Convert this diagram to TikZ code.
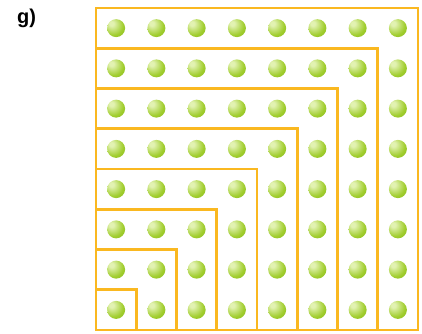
\documentclass[tikz,border=0pt]{standalone}
\usepackage{fontspec}
\setmainfont{Liberation Sans}
\usepackage{tikz}
\usetikzlibrary{positioning}
\definecolor{gnomonorange}{RGB}{250, 184, 32}
\definecolor{ballhi}{RGB}{226, 242, 178}
\definecolor{ballmid}{RGB}{160, 205, 45}
\definecolor{balledge}{RGB}{128, 178, 28}
\pgfdeclareradialshading{greenball}{\pgfpoint{-14bp}{14bp}}{%
  color(0bp)=(ballhi); color(6bp)=(ballhi); color(28bp)=(ballmid);
  color(50bp)=(balledge); color(72bp)=(balledge)}

\begin{document}
\begin{tikzpicture}[x=1pt, y=1pt,
  ballnode/.style={circle, minimum size=18pt, inner sep=0pt, shading=greenball},
  gnomon/.style={draw=gnomonorange, line width=2.6pt}]
  \useasboundingbox (0,0) rectangle (422,333);
  \node[anchor=base west, inner sep=0pt,
        font=\fontsize{20}{24}\selectfont\bfseries] (label) at (17,309) {g)};
  % balls
  \foreach \i in {0,...,7}
    \foreach \j in {0,...,7}
      \node[ballnode] (ball-\i-\j) at ({96+40.25*(\i+0.5)}, {3+40.25*(\j+0.5)}) {};
  % nested squares
  \foreach \k in {1,...,8}
    \draw[gnomon] (96,3) rectangle ++({40.25*\k}, {40.25*\k});
\end{tikzpicture}
\end{document}
